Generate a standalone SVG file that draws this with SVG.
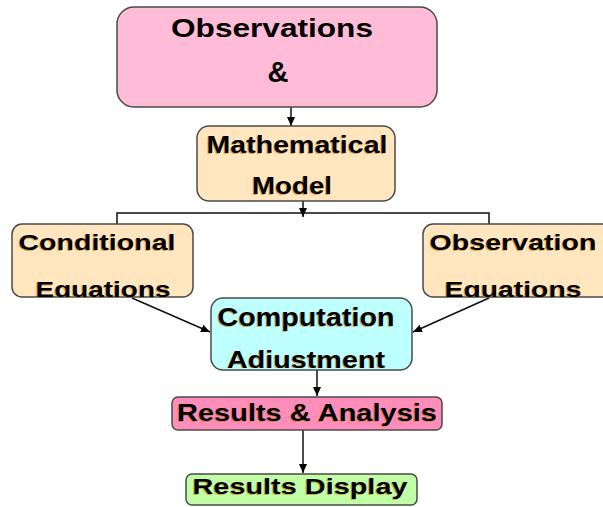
<svg xmlns="http://www.w3.org/2000/svg" width="603" height="507" viewBox="0 0 603 507">
<style>
.box{stroke:#4a4a4a;stroke-width:1.5}
.t{font-family:"Liberation Sans",Arial,sans-serif;font-weight:bold;fill:#000;text-anchor:middle}
.sh{fill:#c07800;opacity:0.55}
.c{stroke:#111;stroke-width:1.5;fill:none}
</style>
<defs>
<marker id="ah" markerUnits="userSpaceOnUse" markerWidth="10" markerHeight="10" refX="9" refY="4" orient="auto">
<path d="M0,0 L9,4 L0,8 Z" fill="#000"/>
</marker>
<clipPath id="cpObs"><rect x="117" y="7" width="320" height="100" rx="17"/></clipPath>
<clipPath id="cpMath"><rect x="197" y="126" width="198" height="75" rx="12"/></clipPath>
<clipPath id="cpCond"><rect x="12" y="224" width="181" height="73" rx="10"/></clipPath>
<clipPath id="cpObsEq"><rect x="423" y="224" width="190" height="73" rx="10"/></clipPath>
<clipPath id="cpComp"><rect x="211" y="298" width="201" height="70" rx="12"/></clipPath>
</defs>

<g id="connectors">
<line class="c" x1="291" y1="107" x2="291" y2="126" marker-end="url(#ah)"/>
<line class="c" x1="303" y1="201" x2="303" y2="217" marker-end="url(#ah)"/>
<polyline class="c" points="117,224 117,213 489,213 489,224"/>
<line class="c" x1="132" y1="298" x2="210" y2="332" marker-end="url(#ah)"/>
<line class="c" x1="489" y1="298" x2="413" y2="332" marker-end="url(#ah)"/>
<line class="c" x1="317" y1="365" x2="317" y2="396" marker-end="url(#ah)"/>
<line class="c" x1="303" y1="430" x2="303" y2="473" marker-end="url(#ah)"/>
</g>

<g id="observations">
<rect class="box" x="117" y="7" width="320" height="100" rx="17" fill="#FFBCD6"/>
<g clip-path="url(#cpObs)">
<text class="t" x="272" y="37" font-size="26" textLength="202" lengthAdjust="spacingAndGlyphs">Observations</text>
<text class="t" x="278" y="82" font-size="30" textLength="21" lengthAdjust="spacingAndGlyphs">&amp;</text>
</g>
</g>

<g id="math-model">
<rect class="box" x="197" y="126" width="198" height="75" rx="12" fill="#FFE6BE"/>
<g clip-path="url(#cpMath)">
<text class="t sh" x="296" y="154" font-size="24" textLength="181" lengthAdjust="spacingAndGlyphs">Mathematical</text>
<text class="t" x="297" y="153" font-size="24" textLength="181" lengthAdjust="spacingAndGlyphs">Mathematical</text>
<text class="t sh" x="291" y="195" font-size="23" textLength="80" lengthAdjust="spacingAndGlyphs">Model</text>
<text class="t" x="292" y="194" font-size="23" textLength="80" lengthAdjust="spacingAndGlyphs">Model</text>
</g>
</g>

<g id="conditional-equations">
<rect class="box" x="12" y="224" width="181" height="73" rx="10" fill="#FFE6BE"/>
<g clip-path="url(#cpCond)">
<text class="t sh" x="96" y="251" font-size="22" textLength="157" lengthAdjust="spacingAndGlyphs">Conditional</text>
<text class="t" x="97" y="250" font-size="22" textLength="157" lengthAdjust="spacingAndGlyphs">Conditional</text>
<text class="t sh" x="102" y="298" font-size="22" textLength="135" lengthAdjust="spacingAndGlyphs">Equations</text>
<text class="t" x="103" y="297" font-size="22" textLength="135" lengthAdjust="spacingAndGlyphs">Equations</text>
</g>
</g>

<g id="observation-equations">
<rect class="box" x="423" y="224" width="190" height="73" rx="10" fill="#FFE6BE"/>
<g clip-path="url(#cpObsEq)">
<text class="t sh" x="512" y="251" font-size="22" textLength="167" lengthAdjust="spacingAndGlyphs">Observation</text>
<text class="t" x="513" y="250" font-size="22" textLength="167" lengthAdjust="spacingAndGlyphs">Observation</text>
<text class="t sh" x="512" y="298" font-size="22" textLength="137" lengthAdjust="spacingAndGlyphs">Equations</text>
<text class="t" x="513" y="297" font-size="22" textLength="137" lengthAdjust="spacingAndGlyphs">Equations</text>
</g>
</g>

<g id="computation-adjustment">
<rect class="box" x="211" y="298" width="201" height="72" rx="12" fill="#BEFFFF"/>
<g clip-path="url(#cpComp)">
<text class="t sh" x="305" y="327" font-size="25" textLength="177" lengthAdjust="spacingAndGlyphs">Computation</text>
<text class="t" x="306" y="326" font-size="25" textLength="177" lengthAdjust="spacingAndGlyphs">Computation</text>
<text class="t sh" x="305" y="369" font-size="23" textLength="158" lengthAdjust="spacingAndGlyphs">Adjustment</text>
<text class="t" x="306" y="368" font-size="23" textLength="158" lengthAdjust="spacingAndGlyphs">Adjustment</text>
</g>
</g>

<g id="results-analysis">
<rect class="box" x="172" y="397" width="270" height="33" rx="6" fill="#FF8DBA"/>
<text class="t sh" x="306" y="422" font-size="23" textLength="260" lengthAdjust="spacingAndGlyphs">Results &amp; Analysis</text>
<text class="t" x="307" y="421" font-size="23" textLength="260" lengthAdjust="spacingAndGlyphs">Results &amp; Analysis</text>
</g>

<g id="results-display">
<rect class="box" x="186" y="474" width="231" height="31" rx="6" fill="#C0FFA6"/>
<text class="t sh" x="299" y="495" font-size="22" textLength="215" lengthAdjust="spacingAndGlyphs">Results Display</text>
<text class="t" x="300" y="494" font-size="22" textLength="215" lengthAdjust="spacingAndGlyphs">Results Display</text>
</g>
</svg>
